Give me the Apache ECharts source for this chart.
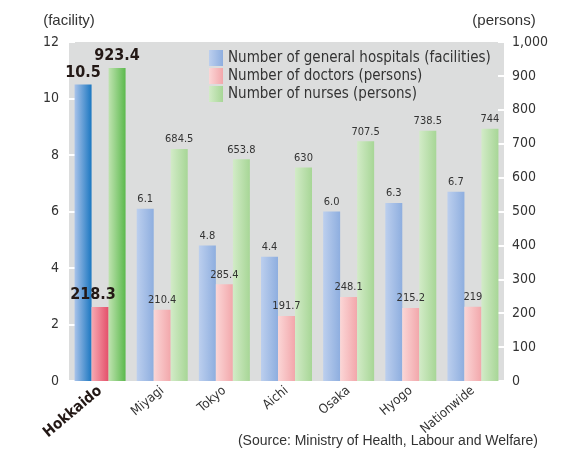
<!DOCTYPE html>
<html>
<head>
<meta charset="utf-8">
<script src="https://cdn.jsdelivr.net/npm/echarts@6/dist/echarts.min.js"></script>
<style>
  html, body { margin: 0; padding: 0; background: #fff; }
  #main { width: 573px; height: 454px; }
</style>
</head>
<body>
<div id="main"></div>
<script>
const regions = ['Hokkaido', 'Miyagi', 'Tokyo', 'Aichi', 'Osaka', 'Hyogo', 'Nationwide']
const hospitals = [10.5, 6.1, 4.8, 4.4, 6.0, 6.3, 6.7]
const doctors = [218.3, 210.4, 285.4, 191.7, 248.1, 215.2, 219]
const nurses = [923.4, 684.5, 653.8, 630, 707.5, 738.5, 744]
const leftTicks = { min: 0, max: 12, interval: 2 }
const rightTicks = { min: 0, max: 1000, interval: 100 }

const narrow = '"DejaVu Sans Condensed", "Liberation Sans Narrow", sans-serif'
const plain = '"Liberation Sans", Arial, sans-serif'

// gradient left->right for bars
function grad (a, b) {
  return new echarts.graphic.LinearGradient(0, 0, 1, 0, [
    { offset: 0, color: a },
    { offset: 1, color: b }
  ])
}

// first item (Hokkaido) is highlighted with darker colours + big bold label
function buildData (values, dark, labelOffset) {
  return values.map((v, i) => {
    if (i === 0) {
      return {
        value: v,
        itemStyle: { color: dark },
        label: { fontSize: 16, fontWeight: 'bold', color: '#231815', offset: labelOffset }
      }
    }
    return v
  })
}

const smallLabel = { show: true, position: 'top', distance: 4, fontFamily: narrow, fontSize: 11, color: '#333' }

const myChart = echarts.init(document.getElementById('main'))

const option = {
  animation: false,
  grid: {
    left: 69,
    right: 69,
    top: 42,
    bottom: 73,
    show: true,
    backgroundColor: '#dcdddd',
    borderWidth: 0
  },
  legend: {
    left: 204,
    top: 45,
    orient: 'vertical',
    itemWidth: 14,
    itemHeight: 16,
    itemGap: 2,
    icon: 'rect',
    textStyle: { fontFamily: narrow, fontSize: 15, color: '#333' },
    data: [
      'Number of general hospitals (facilities)',
      'Number of doctors (persons)',
      'Number of nurses (persons)'
    ]
  },
  xAxis: {
    type: 'category',
    data: regions.map((r, i) => i === 0
      ? { value: r, textStyle: { fontWeight: 'bold', fontSize: 15, color: '#231815' } }
      : r),
    axisLine: { show: false },
    axisTick: { show: false },
    axisLabel: {
      interval: 0,
      rotate: 40,
      margin: 8,
      fontFamily: narrow,
      fontSize: 13,
      color: '#333'
    }
  },
  yAxis: [
    {
      type: 'value',
      min: leftTicks.min,
      max: leftTicks.max,
      interval: leftTicks.interval,
      name: '(facility)',
      nameGap: 14,
      nameTextStyle: { fontFamily: plain, fontSize: 15, color: '#333', align: 'center' },
      axisLine: { show: false },
      axisTick: { show: true, inside: true, length: 6, lineStyle: { color: '#fff', width: 2 } },
      splitLine: { show: false },
      axisLabel: { fontFamily: narrow, fontSize: 14, color: '#333', margin: 10 }
    },
    {
      type: 'value',
      min: rightTicks.min,
      max: rightTicks.max,
      interval: rightTicks.interval,
      name: '(persons)',
      nameGap: 14,
      nameTextStyle: { fontFamily: plain, fontSize: 15, color: '#333', align: 'center' },
      axisLine: { show: false },
      axisTick: { show: true, inside: true, length: 6, lineStyle: { color: '#fff', width: 2 } },
      splitLine: { show: false },
      axisLabel: {
        fontFamily: narrow,
        fontSize: 14,
        color: '#333',
        margin: 8,
        formatter: v => v.toLocaleString('en-US')
      }
    }
  ],
  series: [
    {
      name: 'Number of general hospitals (facilities)',
      type: 'bar',
      yAxisIndex: 0,
      barWidth: 17,
      barGap: '0%',
      itemStyle: { color: grad('#bccfee', '#8eaedf') },
      label: Object.assign({}, smallLabel, { formatter: p => p.value.toFixed(1) }),
      data: buildData(hospitals, grad('#a9c3ea', '#1b77c1'), [0, 0])
    },
    {
      name: 'Number of doctors (persons)',
      type: 'bar',
      yAxisIndex: 1,
      barWidth: 17,
      barGap: '0%',
      itemStyle: { color: grad('#fbd6d6', '#f2a7ab') },
      label: smallLabel,
      data: buildData(doctors, grad('#f6a9b2', '#e4506a'), [-7, 0])
    },
    {
      name: 'Number of nurses (persons)',
      type: 'bar',
      yAxisIndex: 1,
      barWidth: 17,
      barGap: '0%',
      itemStyle: { color: grad('#d2ebc7', '#a7d696') },
      label: smallLabel,
      data: buildData(nurses, grad('#bfe3b0', '#5cb94d'), [0, 0])
    }
  ],
  graphic: [
    {
      type: 'text',
      right: 35,
      bottom: 6,
      style: {
        text: '(Source: Ministry of Health, Labour and Welfare)',
        font: '14px ' + plain,
        fill: '#333'
      }
    }
  ]
}

myChart.setOption(option)
</script>
</body>
</html>
